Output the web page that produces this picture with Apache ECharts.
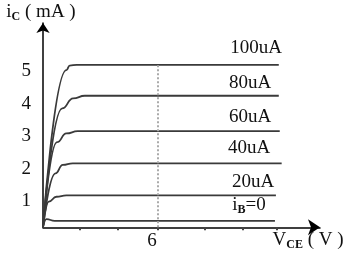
<!DOCTYPE html>
<html><head><meta charset="utf-8">
<script src="https://cdn.jsdelivr.net/npm/echarts@6/dist/echarts.min.js"></script>
<style>html,body{margin:0;padding:0;background:#fff}#c{width:351px;height:254px}</style>
</head><body><div id="c"></div>
<script>
// Collector characteristic curves (VCE in V, IC in mA)
var curve100 = [[0,0],[1.22,4.84],[1.39,4.98],[1.76,5.0],[12.3,5.0]];
var curve80  = [[0,0],[1.0,3.66],[1.57,3.97],[2.18,4.05],[12.3,4.05]];
var curve60  = [[0,0],[0.73,2.62],[1.22,2.89],[1.81,2.96],[12.35,2.96]];
var curve40  = [[0,0],[0.65,1.66],[1.03,1.92],[1.55,1.97],[12.45,1.97]];
var curve20  = [[0,0],[0.3,0.79],[0.7,0.94],[1.22,0.98],[12.15,0.98]];
var curve0   = [[0,0],[0.18,0.25],[0.61,0.2],[12.1,0.2]];
var curveNames = ['100uA','80uA','60uA','40uA','20uA','iB=0'];
var yTickLabels = [1,2,3,4,5];
var xTickLabels = [6];
var xTickDots = [1.93,3.91,6,8.45,10.43,12.2];
var guideX = 6;
var guideTop = 5.05;

var FONT = 'Liberation Serif';
var chart = echarts.init(document.getElementById('c'), null, {renderer:'canvas'});
var curves = [curve100,curve80,curve60,curve40,curve20,curve0];
var series = curves.map(function(d,i){
  return {type:'line', name:curveNames[i], data:d, smooth:0.5, smoothMonotone:'x',
    symbol:'none', lineStyle:{color:'#3a3a3a', width:1.8}, silent:true, z:3};
});
series.push({type:'line', data:[], silent:true,
  markLine:{silent:true, symbol:'none', label:{show:false},
    lineStyle:{color:'#aaa', type:'dotted', width:2},
    data:[[{coord:[guideX,0]},{coord:[guideX,guideTop]}]]}});

function txt(x,y,t,rich){
  return {type:'text', x:x, y:y, style:{text:t, rich:rich, font:'19px '+FONT, fill:'#111',
    align:'center', verticalAlign:'middle'}};
}
var rich = {
  a:{fontFamily:FONT, fontSize:19, lineHeight:22, color:'#111'},
  b:{fontFamily:FONT, fontSize:12, lineHeight:12, verticalAlign:'bottom', color:'#111', fontWeight:'bold'}
};
var labelPos = [[256,48],[250,83],[250,117],[249,148],[253,182]];
var graphics = labelPos.map(function(p,i){ return txt(p[0],p[1],curveNames[i]); });
graphics.push(txt(249,205,'{a|i}{b|B}{a|=0}',rich));
graphics.push(txt(41,12,'{a|i}{b|C}{a| ( mA )}',rich));
graphics.push(txt(308,240,'{a|V}{b|CE}{a| ( V )}',rich));

chart.setOption({
  animation:false,
  grid:{left:43, top:23, width:277, height:204.3},
  xAxis:{type:'value', min:0, max:14.45,
    axisLine:{show:true, onZero:false, lineStyle:{color:'#000', width:1.5}, symbol:['none','arrow'], symbolSize:[12,12]},
    axisTick:{show:true, customValues:xTickDots, length:3, inside:false, lineStyle:{color:'#444', width:2}},
    axisLabel:{show:true, customValues:xTickLabels, fontFamily:FONT, fontSize:19, color:'#111', margin:4, padding:[0,12,0,0]},
    splitLine:{show:false}},
  yAxis:{type:'value', min:0, max:6.29,
    axisLine:{show:true, onZero:false, lineStyle:{color:'#000', width:1.5}, symbol:['none','arrow'], symbolSize:[10,10]},
    axisTick:{show:false},
    axisLabel:{show:true, customValues:yTickLabels, fontFamily:FONT, fontSize:19, color:'#111', margin:12, lineHeight:13, verticalAlign:'top'},
    splitLine:{show:false}},
  series:series,
  graphic:graphics
});
</script></body></html>
